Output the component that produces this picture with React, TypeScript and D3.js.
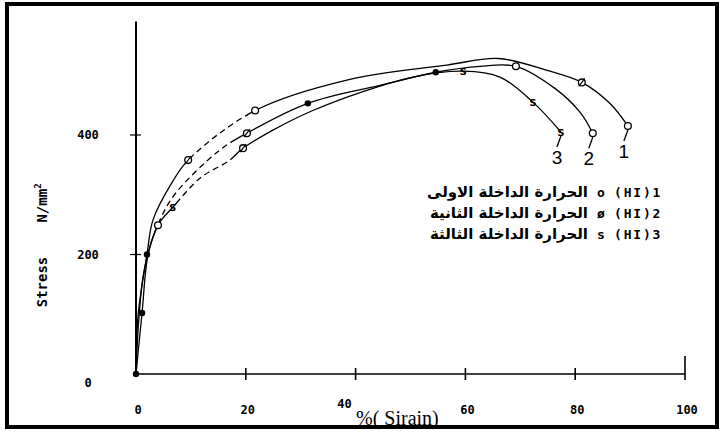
import React, { useLayoutEffect, useRef } from 'react';
import * as d3 from 'd3';

const X_TICKS = [0, 20, 40, 60, 80, 100];
const Y_TICKS = [0, 200, 400];
const X_TITLE = '%( Sirain)';
const Y_TITLE = 'Stress';
const Y_UNIT = 'N/mm';
const CURVE_LABELS = ['1', '2', '3'];
const LEGEND_AR = ['الحرارة الداخلة الاولى', 'الحرارة الداخلة الثانية', 'الحرارة الداخلة الثالثة'];
const LEGEND_CODE = ['(HI)1', '(HI)2', '(HI)3'];
const LEGEND_SYM = ['o', 'ø', 's'];

// strain (%) / stress (N/mm2)
const STRAIN_1 = [0, 0.4, 2, 3.1, 6.6, 9.5, 21.7, 38.4, 56.6, 66, 74.9, 81.2, 86.3, 89.6];
const STRESS_1 = [0, 100, 200, 258, 321, 358, 441, 492, 517, 528, 508, 488, 453, 415];
const STRAIN_2 = [0, 1.1, 2.2, 4, 7, 15.3, 20.2, 31.3, 44.4, 54.6, 62.7, 69.2, 76.3, 80.9, 83.2];
const STRESS_2 = [0, 102, 200, 250, 300, 375, 403, 453, 483, 505, 515, 515, 478, 438, 403];
const STRAIN_3 = [0, 0.5, 1.5, 4, 6.7, 11.7, 17.1, 19.5, 32.2, 50.5, 59.6, 66.3, 72.3, 77.4];
const STRESS_3 = [0, 90, 174, 249, 279, 328, 358, 378, 441, 497, 507, 497, 455, 405];

// markers: strain, stress, symbol
const MARKS_1: [number, number, string][] = [[2, 200, 'f'], [9.5, 358, 'ø'], [21.7, 441, 'o'], [81.2, 488, 'ø'], [89.6, 415, 'o']];
const MARKS_2: [number, number, string][] = [[1.1, 102, 'f'], [20.2, 403, 'ø'], [31.3, 453, 'f'], [54.6, 505, 'f'], [69.2, 515, 'o'], [83.2, 403, 'o']];
const MARKS_3: [number, number, string][] = [[0, 0, 'f'], [4, 249, 'o'], [6.7, 279, 's'], [19.5, 378, 'ø'], [59.6, 507, 's'], [72.3, 455, 's'], [77.4, 405, 's']];

const DASH_RANGES = [[10.5, 21], [4.5, 19.5], [8, 18.5]];

const W = 721;
const H = 436;

const x = d3.scaleLinear().domain([0, 100]).range([136, 685]);
const y = d3.scaleLinear().domain([0, 400]).range([374, 135]);

const mono = '"DejaVu Sans Mono", monospace';

const series = [
  { xs: STRAIN_1, ys: STRESS_1, marks: MARKS_1 },
  { xs: STRAIN_2, ys: STRESS_2, marks: MARKS_2 },
  { xs: STRAIN_3, ys: STRESS_3, marks: MARKS_3 },
];

const line = d3
  .line<[number, number]>()
  .x((d) => x(d[0]))
  .y((d) => y(d[1]))
  .curve(d3.curveCatmullRom.alpha(0.5));

function Marker({ sx, sy, sym }: { sx: number; sy: number; sym: string }) {
  const cx = x(sx);
  const cy = y(sy);
  if (sym === 's') {
    return (
      <text x={cx} y={cy + 4} textAnchor="middle" fontFamily={mono} fontWeight="bold" fontSize={13}>
        s
      </text>
    );
  }
  if (sym === 'f') return <circle cx={cx} cy={cy} r={3.2} fill="#000" />;
  return (
    <g>
      <circle cx={cx} cy={cy} r={3.4} fill="#fff" stroke="#000" strokeWidth={1.3} />
      {sym === 'ø' && <line x1={cx - 3} y1={cy + 4} x2={cx + 3} y2={cy - 4} stroke="#000" strokeWidth={1.2} />}
    </g>
  );
}

export default function App() {
  const refs = useRef<(SVGPathElement | null)[]>([]);

  useLayoutEffect(() => {
    refs.current.forEach((p, i) => {
      if (!p) return;
      const total = p.getTotalLength();
      const xa = x(DASH_RANGES[i][0]);
      const xb = x(DASH_RANGES[i][1]);
      let la = -1;
      let lb = total;
      for (let l = 0; l <= total; l += 0.5) {
        const pt = p.getPointAtLength(l);
        if (la < 0 && pt.x >= xa) la = l;
        if (pt.x >= xb) {
          lb = l;
          break;
        }
      }
      if (la < 0) return;
      const arr: number[] = [la];
      let pos = la;
      while (pos + 10 < lb) {
        arr.push(4, 6);
        pos += 10;
      }
      arr.push(0, total, total);
      p.setAttribute('stroke-dasharray', arr.map((v) => v.toFixed(2)).join(' '));
    });
  }, []);

  return (
    <svg width={W} height={H} style={{ position: 'absolute', left: 0, top: 0, background: '#fff' }}>
      <rect x={0} y={0} width={W} height={H} fill="#fff" />
      <rect x={7} y={4} width={710} height={423} fill="none" stroke="#000" strokeWidth={4} />

      {/* axes */}
      <line x1={x(0)} y1={y(590)} x2={x(0)} y2={y(0)} stroke="#000" strokeWidth={2} />
      <line x1={x(0)} y1={y(0)} x2={x(100)} y2={y(0)} stroke="#000" strokeWidth={1.5} />
      {X_TICKS.filter((t) => t > 0).map((t) => (
        <line key={t} x1={x(t)} x2={x(t)} y1={y(0) - (t === 100 ? 18 : 6)} y2={y(0) + 6} stroke="#000" strokeWidth={1.6} />
      ))}
      {Y_TICKS.filter((t) => t > 0).map((t) => (
        <line key={t} x1={x(0) - 6} x2={x(0) + 5} y1={y(t)} y2={y(t)} stroke="#000" strokeWidth={1.2} />
      ))}

      {X_TICKS.map((t) => (
        <text
          key={t}
          x={x(t) + (t === 40 ? -11 : 2)}
          y={t === 40 ? 408 : 414}
          textAnchor="middle"
          fontFamily={mono}
          fontWeight="bold"
          fontSize={12}
        >
          {t}
        </text>
      ))}
      {Y_TICKS.map((t) => (
        <text key={t} x={88} y={y(t) + (t === 0 ? 13 : 4)} textAnchor="middle" fontFamily={mono} fontWeight="bold" fontSize={12}>
          {t}
        </text>
      ))}

      <text x={356} y={425} fontFamily='"Liberation Serif", serif' fontSize={20}>
        {X_TITLE}
      </text>
      <text transform="translate(47,282) rotate(-90)" textAnchor="middle" fontFamily={mono} fontWeight="bold" fontSize={14}>
        {Y_TITLE}
      </text>
      <text transform="translate(47,203) rotate(-90)" textAnchor="middle" fontFamily={mono} fontWeight="bold" fontSize={14}>
        {Y_UNIT}
        <tspan fontSize={9} dy={-6}>2</tspan>
      </text>

      {/* curves */}
      {series.map((s, i) => {
        const pts = s.xs.map((v, j) => [v, s.ys[j]] as [number, number]);
        return (
          <path
            key={i}
            ref={(el) => {
              refs.current[i] = el;
            }}
            d={line(pts) || ''}
            fill="none"
            stroke="#000"
            strokeWidth={1.3}
          />
        );
      })}
      {series.map((s, i) => s.marks.map((m, j) => <Marker key={`${i}-${j}`} sx={m[0]} sy={m[1]} sym={m[2]} />))}

      {/* end labels */}
      {series.map((s, i) => {
        const px = x(s.xs[s.xs.length - 1]);
        const py = y(s.ys[s.ys.length - 1]);
        return (
          <g key={i}>
            <line x1={px} y1={py + 4} x2={px - 4} y2={py + 15} stroke="#000" strokeWidth={1.3} />
            <text x={px - 4} y={py + 32} textAnchor="middle" fontFamily='"Liberation Sans", sans-serif' fontSize={19}>
              {CURVE_LABELS[i]}
            </text>
          </g>
        );
      })}

      {/* legend */}
      {LEGEND_AR.map((t, i) => {
        const ry = 192 + i * 21;
        return (
          <g key={i}>
            <text x={588} y={ry + 5} textAnchor="end" fontFamily='"DejaVu Sans", sans-serif' fontWeight="bold" fontSize={15}>
              {t}
            </text>
            <text x={601} y={ry + 5} textAnchor="middle" fontFamily={mono} fontWeight="bold" fontSize={13}>
              {LEGEND_SYM[i]}
            </text>
            <text x={614} y={ry + 5} fontFamily={mono} fontWeight="bold" fontSize={13} letterSpacing={1.8}>
              {LEGEND_CODE[i]}
            </text>
          </g>
        );
      })}
    </svg>
  );
}
